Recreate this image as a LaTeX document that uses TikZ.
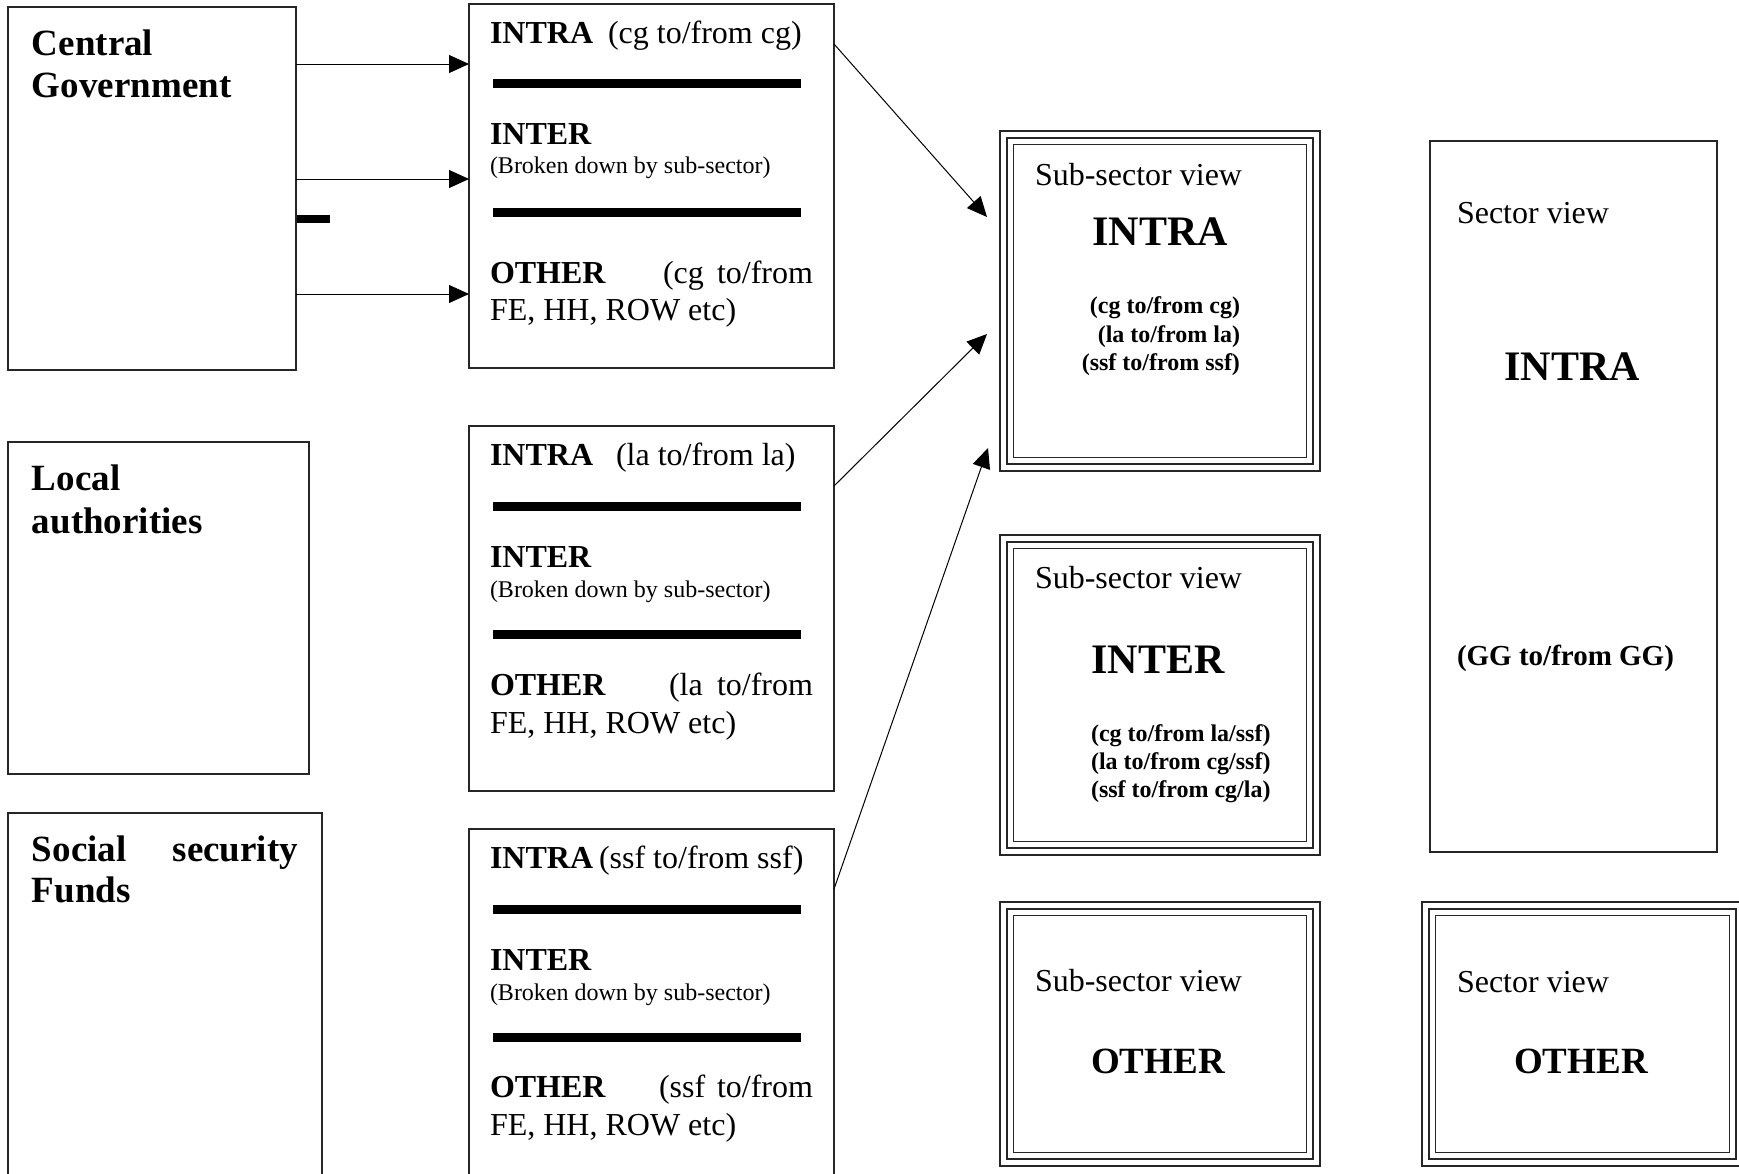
\documentclass[tikz,border=0pt]{standalone}
\usepackage{fontspec}
\setmainfont{Liberation Serif}
\usetikzlibrary{arrows.meta,fit}
\newcommand\fszMain{\fontsize{16pt}{19pt}\selectfont}
\newcommand\fszSmall{\fontsize{12pt}{14pt}\selectfont}
\newcommand\fszHead{\fontsize{18.5pt}{21pt}\selectfont}
\newcommand\fszBig{\fontsize{21pt}{24pt}\selectfont}
\newcommand\fszGG{\fontsize{14.5pt}{17pt}\selectfont}
\newcommand\tripframe[1]{%
  \draw[box] ([shift={(7,7)}]#1.north west) rectangle ([shift={(-7,-7)}]#1.south east);
  \draw[box] ([shift={(13.5,13.5)}]#1.north west) rectangle ([shift={(-13.5,-13.5)}]#1.south east);}
\begin{document}
\begin{tikzpicture}[x=0.5pt,y=-0.5pt,
  box/.style={draw=black!85, line width=0.55pt, inner sep=0pt, outer sep=0pt},
  lbl/.style={anchor=base west, inner sep=0pt, outer sep=0pt},
  lblr/.style={anchor=base east, inner sep=0pt, outer sep=0pt},
  lblc/.style={anchor=base, inner sep=0pt, outer sep=0pt},
  arr/.style={draw=black, line width=0.5pt, -{Triangle[length=10pt,width=9pt]}},
  bar/.style={fill=black}]
\useasboundingbox (0,0) rectangle (1739,1173);
\clip (0,0) rectangle (1739,1173);
\fill[white] (0,0) rectangle (1739,1173);

% left boxes
\node[box, fit={(8,7) (296,370)}] (cg) {};
\node[box, fit={(8,442) (309,774)}] (la) {};
\node[box, fit={(8,813) (322,1190)}] (ssf) {};
\fill[bar] (297,215) rectangle (330,223);

\node[lbl] (cgt1) at (32,55) {\fszHead\bfseries Central};
\node[lbl] (cgt2) at (32,97) {\fszHead\bfseries Government};
\node[lbl] (lat1) at (32,490) {\fszHead\bfseries Local};
\node[lbl] (lat2) at (32,533) {\fszHead\bfseries authorities};
\node[lbl] (sst1) at (32,861) {\fszHead\bfseries Social};
\node[lblr] (sst2) at (298,861) {\fszHead\bfseries security};
\node[lbl] (sst3) at (32,902) {\fszHead\bfseries Funds};

% middle boxes
\node[box, fit={(469,4) (834,368)}] (b1) {};
\node[box, fit={(469,426) (834,791)}] (b2) {};
\node[box, fit={(469,829) (834,1190)}] (b3) {};

\fill[bar] (493,79) rectangle (801,88);
\fill[bar] (493,208) rectangle (801,217);
\fill[bar] (493,502) rectangle (801,510.5);
\fill[bar] (493,630) rectangle (801,638.5);
\fill[bar] (493,905) rectangle (801,913.5);
\fill[bar] (493,1033) rectangle (801,1042);

\node[lbl] (b1a) at (490,43) {\fszMain\bfseries INTRA};
\node[lbl] (b1b) at (608,43) {\fszMain (cg to/from cg)};
\node[lbl] (b1c) at (490,144) {\fszMain\bfseries INTER};
\node[lbl] (b1d) at (490,173) {\fszSmall (Broken down by sub-sector)};
\node[lbl] (b1e) at (490,283) {\fszMain\bfseries OTHER};
\node[lbl] (b1f) at (663,283) {\fszMain (cg};
\node[lblr] (b1g) at (813,283) {\fszMain to/from};
\node[lbl] (b1h) at (490,320) {\fszMain FE, HH, ROW etc)};

\node[lbl] (b2a) at (490,465) {\fszMain\bfseries INTRA};
\node[lbl] (b2b) at (616,465) {\fszMain (la to/from la)};
\node[lbl] (b2c) at (490,567) {\fszMain\bfseries INTER};
\node[lbl] (b2d) at (490,597) {\fszSmall (Broken down by sub-sector)};
\node[lbl] (b2e) at (490,695) {\fszMain\bfseries OTHER};
\node[lbl] (b2f) at (669,695) {\fszMain (la};
\node[lblr] (b2g) at (813,695) {\fszMain to/from};
\node[lbl] (b2h) at (490,733) {\fszMain FE, HH, ROW etc)};

\node[lbl] (b3a) at (490,868) {\fszMain\bfseries INTRA};
\node[lbl] (b3b) at (599,868) {\fszMain (ssf to/from ssf)};
\node[lbl] (b3c) at (490,970) {\fszMain\bfseries INTER};
\node[lbl] (b3d) at (490,1000) {\fszSmall (Broken down by sub-sector)};
\node[lbl] (b3e) at (490,1097) {\fszMain\bfseries OTHER};
\node[lbl] (b3f) at (659,1097) {\fszMain (ssf};
\node[lblr] (b3g) at (813,1097) {\fszMain to/from};
\node[lbl] (b3h) at (490,1135) {\fszMain FE, HH, ROW etc)};

% sub-sector boxes
\node[box, fit={(1000,131) (1320,471)}] (ssA) {};
\tripframe{ssA}
\node[box, fit={(1000,535) (1320,855)}] (ssB) {};
\tripframe{ssB}
\node[box, fit={(1000,902) (1320,1166)}] (ssC) {};
\tripframe{ssC}

\node[lbl] (ssA1) at (1035,185) {\fszMain Sub-sector view};
\node[lblc] (ssA2) at (1160,245) {\fszBig\bfseries INTRA};
\node[lblr] (ssA3) at (1240,313) {\fszSmall\bfseries (cg to/from cg)};
\node[lblr] (ssA4) at (1240,342) {\fszSmall\bfseries (la to/from la)};
\node[lblr] (ssA5) at (1240,370) {\fszSmall\bfseries (ssf to/from ssf)};

\node[lbl] (ssB1) at (1035,588) {\fszMain Sub-sector view};
\node[lblc] (ssB2) at (1158,673) {\fszBig\bfseries INTER};
\node[lbl] (ssB3) at (1091,741) {\fszSmall\bfseries (cg to/from la/ssf)};
\node[lbl] (ssB4) at (1091,769) {\fszSmall\bfseries (la to/from cg/ssf)};
\node[lbl] (ssB5) at (1091,797) {\fszSmall\bfseries (ssf to/from cg/la)};

\node[lbl] (ssC1) at (1035,991) {\fszMain Sub-sector view};
\node[lblc] (ssC2) at (1158,1073) {\fszHead\bfseries OTHER};

% sector boxes
\node[box, fit={(1430,141) (1717,852)}] (svA) {};
\node[box, fit={(1422,902) (1743,1166)}] (svC) {};
\tripframe{svC}

\node[lbl] (svA1) at (1457,223) {\fszMain Sector view};
\node[lblc] (svA2) at (1572,380) {\fszBig\bfseries INTRA};
\node[lbl] (svA3) at (1457,665) {\fszGG\bfseries (GG to/from GG)};

\node[lbl] (svC1) at (1457,992) {\fszMain Sector view};
\node[lblc] (svC2) at (1581,1073) {\fszHead\bfseries OTHER};

% connectors
\draw[arr] (cg.east |- 0,64) -- (b1.west |- 0,64);
\draw[arr] (cg.east |- 0,179) -- (b1.west |- 0,179);
\draw[arr] (cg.east |- 0,294) -- (b1.west |- 0,294);

\coordinate (tA) at (987,217);
\coordinate (tB) at (987,334);
\coordinate (tC) at (988,448);
\draw[arr] (b1.east |- 0,44) -- (tA);
\draw[arr] (b2.east |- 0,486) -- (tB);
\draw[arr] (b3.east |- 0,889) -- (tC);
\end{tikzpicture}
\end{document}
